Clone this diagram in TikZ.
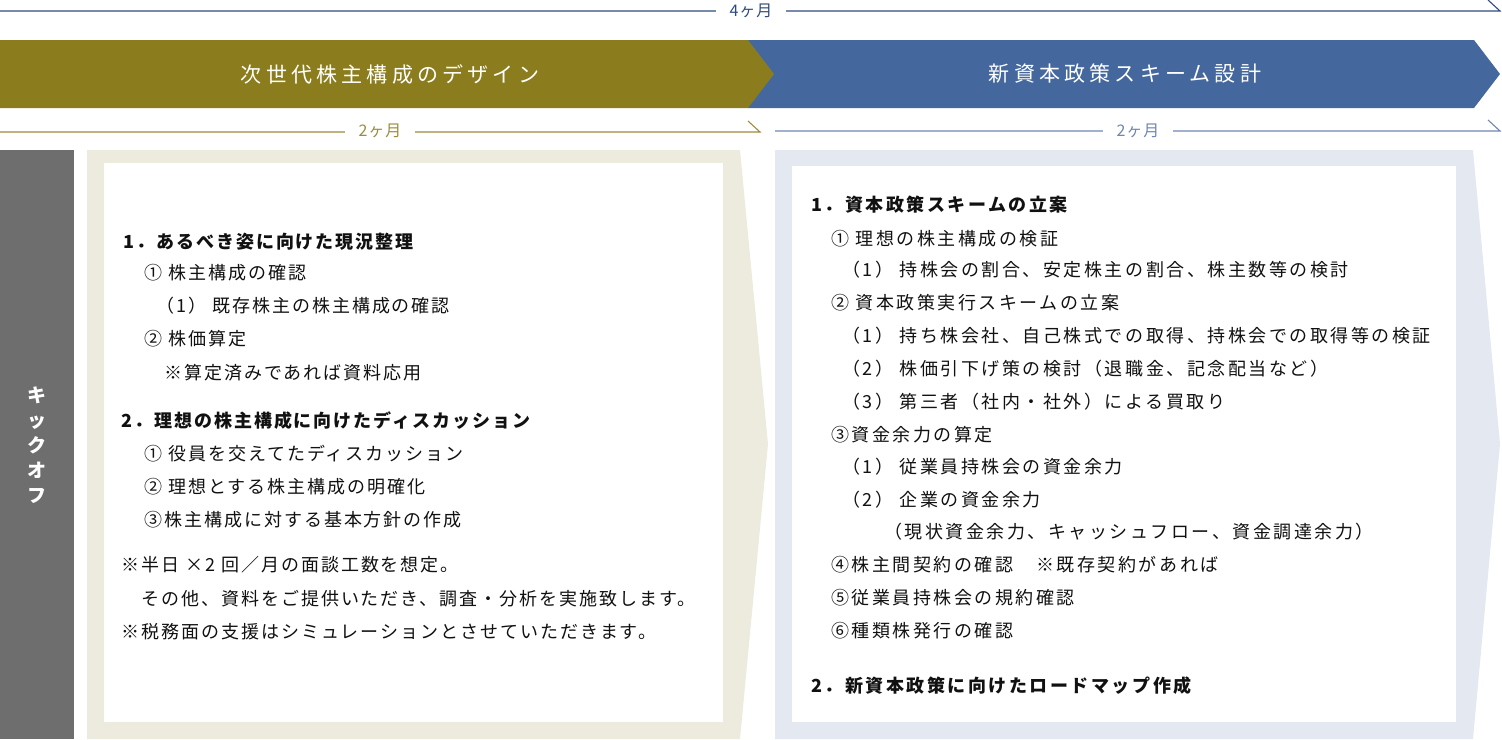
\documentclass[tikz,border=0pt]{standalone}
\usepackage{fontspec}
\setmainfont{Noto Sans CJK JP}
\newfontfamily\jpL[LetterSpace=11]{Noto Sans CJK JP}
\newfontfamily\jpT[LetterSpace=20]{Noto Sans CJK JP}
\newfontfamily\jpR[LetterSpace=14]{Noto Sans CJK JP}
\newfontfamily\jpM[LetterSpace=6]{Noto Sans CJK JP}
\definecolor{myolive}{HTML}{8B7D1E}
\definecolor{myblue}{HTML}{44679D}
\definecolor{mygray}{HTML}{6E6E6E}
\definecolor{lolive}{HTML}{EDEBDE}
\definecolor{lblue}{HTML}{E3E8F1}
\definecolor{dblue}{HTML}{2E4A80}
\definecolor{lineolive}{HTML}{9C8C3A}
\definecolor{lineblue}{HTML}{6F86B0}
\definecolor{txt}{HTML}{111111}
\begin{document}
\begin{tikzpicture}[x=1pt,y=-1pt,
  lt/.style={anchor=west,inner sep=0pt,text=txt,font=\jpL\fontsize{18}{18}\selectfont},
  lth/.style={lt,font=\jpL\bfseries\fontsize{18}{18}\selectfont},
  rt/.style={anchor=west,inner sep=0pt,text=txt,font=\jpR\fontsize{18}{18}\selectfont},
  rth/.style={rt,font=\jpR\bfseries\fontsize{18}{18}\selectfont},
  title/.style={text=white,inner sep=0pt,font=\jpT\fontsize{21}{21}\selectfont},
  month/.style={fill=white,inner ysep=2pt,inner xsep=14pt,font=\jpM\fontsize{16}{16}\selectfont},
  period/.style={line width=1.1pt}
]
\useasboundingbox (0,0) rectangle (1502,739);

% top 4-month line
\coordinate (t0) at (0,11);
\coordinate (t1) at (1500,11);
\coordinate (t1b) at (1488,0);
\draw[period,dblue] (t0) -- (t1) -- (t1b);
\node[month,text=dblue] (m4) at (751,11) {4ヶ月};

% banners
\fill[myblue] (748,40) -- (1474,40) -- (1500,74) -- (1474,108) -- (748,108) -- cycle;
\fill[myolive] (0,40) -- (748,40) -- (774,74) -- (748,108) -- (0,108) -- cycle;
\node[title] (tl) at (390,74) {次世代株主構成のデザイン};
\node[title] (tr) at (1125,74) {新資本政策スキーム設計};

% 2-month lines
\coordinate (la) at (0,132);
\coordinate (lb) at (760,132);
\coordinate (lc) at (748,121);
\draw[period,lineolive] (la) -- (lb) -- (lc);
\node[month,text=lineolive] (m2l) at (380,131) {2ヶ月};
\coordinate (ra) at (775,131);
\coordinate (rb) at (1500,131);
\coordinate (rc) at (1488,120);
\draw[period,lineblue] (ra) -- (rb) -- (rc);
\node[month,text=lineblue] (m2r) at (1138,131) {2ヶ月};

% kickoff bar
\fill[mygray] (0,150) rectangle (74,739);
\node[text=white,align=center,inner sep=0pt,font=\bfseries\fontsize{19}{25}\selectfont] (ko) at (37,445) {キ\\ッ\\ク\\オ\\フ};

% left panel
\fill[lolive] (87,150) -- (740,150) -- (768,444) -- (740,739) -- (87,739) -- cycle;
\fill[white] (104,163) rectangle (723,722);
% right panel
\fill[lblue] (775,150) -- (1473,150) -- (1500,444) -- (1473,739) -- (775,739) -- cycle;
\fill[white] (792,166) rectangle (1456,722);

% left text
\node[lth] (l1) at (123,242) {1．あるべき姿に向けた現況整理};
\node[lt] (l2) at (144,273) {① 株主構成の確認};
\node[lt] (l3) at (156,306) {（1） 既存株主の株主構成の確認};
\node[lt] (l4) at (144,339) {② 株価算定};
\node[lt] (l5) at (164,373) {※算定済みであれば資料応用};
\node[lth] (l6) at (121,421) {2．理想の株主構成に向けたディスカッション};
\node[lt] (l7) at (144,454) {① 役員を交えてたディスカッション};
\node[lt] (l8) at (144,487) {② 理想とする株主構成の明確化};
\node[lt] (l9) at (144,520) {③株主構成に対する基本方針の作成};
\node[lt] (l10) at (121,565) {※半日 ×2 回／月の面談工数を想定。};
\node[lt] (l11) at (141,599) {その他、資料をご提供いただき、調査・分析を実施致します。};
\node[lt] (l12) at (121,632) {※税務面の支援はシミュレーションとさせていただきます。};

% right text
\node[rth] (r1) at (811,205) {1．資本政策スキームの立案};
\node[rt] (r2) at (831,239) {① 理想の株主構成の検証};
\node[rt] (r3) at (842,270) {（1） 持株会の割合、安定株主の割合、株主数等の検討};
\node[rt] (r4) at (831,303) {② 資本政策実行スキームの立案};
\node[rt] (r5) at (842,336) {（1） 持ち株会社、自己株式での取得、持株会での取得等の検証};
\node[rt] (r6) at (842,369) {（2） 株価引下げ策の検討（退職金、記念配当など）};
\node[rt] (r7) at (842,402) {（3） 第三者（社内・社外）による買取り};
\node[rt] (r8) at (831,435) {③資金余力の算定};
\node[rt] (r9) at (842,467) {（1） 従業員持株会の資金余力};
\node[rt] (r10) at (842,500) {（2） 企業の資金余力};
\node[rt] (r11) at (884,532) {（現状資金余力、キャッシュフロー、資金調達余力）};
\node[rt] (r12) at (831,565) {④株主間契約の確認　※既存契約があれば};
\node[rt] (r13) at (831,598) {⑤従業員持株会の規約確認};
\node[rt] (r14) at (831,631) {⑥種類株発行の確認};
\node[rth] (r15) at (811,686) {2．新資本政策に向けたロードマップ作成};
\end{tikzpicture}
\end{document}
